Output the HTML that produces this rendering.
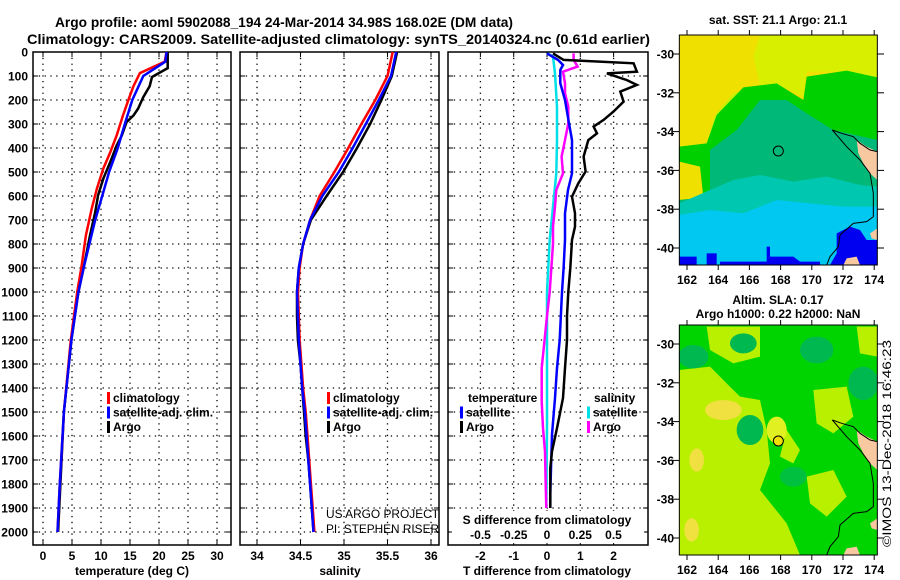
<!DOCTYPE html>
<html><head><meta charset="utf-8"><style>
html,body{margin:0;padding:0;background:#fff;}
svg{display:block;font-family:"Liberation Sans",Arial,sans-serif;font-weight:bold;}
</style></head><body>
<svg id="chart" width="900" height="580" viewBox="0 0 900 580" xmlns="http://www.w3.org/2000/svg">
<text x="55" y="27" font-size="14" textLength="458" lengthAdjust="spacingAndGlyphs">Argo profile: aoml 5902088_194 24-Mar-2014 34.98S 168.02E (DM data)</text>
<text x="27" y="44" font-size="14" textLength="623" lengthAdjust="spacingAndGlyphs">Climatology: CARS2009. Satellite-adjusted climatology: synTS_20140324.nc (0.61d earlier)</text>
<g id="panels"></g>

<!-- top map -->
<svg x="660" y="0" width="240" height="290" viewBox="0 0 720 870">
<defs><clipPath id="mc1"><rect x="58" y="105" width="594" height="690"/></clipPath></defs>
<g clip-path="url(#mc1)">
<rect x="58" y="105" width="594" height="690" fill="#f0e000"/>
<polygon fill="#d8f000" points="300,105 652,105 652,240 560,215 440,215 430,290 380,265 300,255 280,170"/>
<polygon fill="#c8f000" points="58,440 140,430 165,345 220,280 300,260 300,330 200,360 150,440 120,480 58,480"/>
<polygon fill="#00d000" points="58,440 140,430 170,345 250,262 350,250 430,300 440,230 560,212 652,232 652,800 58,800 58,600 130,592 120,500 58,485"/>
<polygon fill="#00b878" points="58,600 150,592 150,450 230,390 300,300 380,300 440,340 520,390 652,420 652,800 58,800"/>
<polygon fill="#00c8b0" points="58,610 150,570 220,540 300,525 400,545 500,530 600,555 652,560 652,800 58,800"/>
<polygon fill="#00c8f0" points="58,645 150,630 250,640 350,600 450,610 550,620 652,620 652,800 58,800"/>
<polygon fill="#0000f0" points="58,770 110,770 110,795 58,795"/>
<polygon fill="#0000f0" points="140,760 170,760 170,795 140,795"/>
<polygon fill="#0000f0" points="180,785 320,785 320,740 330,740 330,770 400,770 420,785 480,785 480,795 180,795"/>
<polygon fill="#0000f0" points="530,700 570,680 600,690 620,720 652,720 652,795 510,795 530,760"/>
<polygon fill="#f8c8a0" points="590,420 620,440 652,455 652,540 630,520 610,490 595,460"/>
<polygon fill="#f8c8a0" points="550,795 560,775 590,770 600,795"/>
<polygon fill="#f8c8a0" points="630,700 652,685 652,720 635,715"/>
<polyline fill="none" stroke="#000" stroke-width="3" points="517,390 545,400 580,410 600,430 630,450 652,455"/>
<polyline fill="none" stroke="#000" stroke-width="3" points="517,390 560,440 600,480 630,520 640,580 640,650 620,665 580,670 540,705 535,740 510,770 500,795"/>
<circle cx="355" cy="453" r="15" fill="none" stroke="#000" stroke-width="3"/>
</g>
<rect x="58" y="105" width="594" height="690" fill="none" stroke="#000" stroke-width="3"/>
</svg>

<!-- bottom map -->
<svg x="660" y="290" width="240" height="290" viewBox="0 0 720 870">
<defs><clipPath id="mc2"><rect x="58" y="105" width="594" height="690"/></clipPath></defs>
<g clip-path="url(#mc2)">
<rect x="58" y="105" width="594" height="690" fill="#00d400"/>
<polygon fill="#b8f000" points="58,240 150,230 200,280 240,320 300,330 320,420 330,520 300,600 380,700 420,795 58,795"/>
<polygon fill="#b8f000" points="380,420 420,480 400,520 360,500"/>
<polygon fill="#b8f000" points="460,300 560,290 580,380 520,430 470,400"/>
<polygon fill="#b8f000" points="440,560 520,540 560,620 500,680 450,640"/>
<polygon fill="#b8f000" points="140,110 300,110 300,200 220,220 150,180"/>
<polygon fill="#b8f000" points="590,110 652,110 652,200 600,190"/>
<ellipse cx="190" cy="360" rx="55" ry="30" fill="#f0e040"/>
<ellipse cx="110" cy="510" rx="22" ry="35" fill="#f0e040"/>
<ellipse cx="95" cy="720" rx="22" ry="35" fill="#f0e040"/>
<ellipse cx="350" cy="420" rx="30" ry="40" fill="#e0f020"/>
<ellipse cx="100" cy="200" rx="45" ry="35" fill="#00b850"/>
<ellipse cx="250" cy="160" rx="40" ry="30" fill="#00b850"/>
<ellipse cx="470" cy="180" rx="50" ry="40" fill="#00b850"/>
<ellipse cx="610" cy="280" rx="45" ry="50" fill="#00b850"/>
<ellipse cx="270" cy="420" rx="40" ry="45" fill="#00b850"/>
<ellipse cx="400" cy="560" rx="40" ry="30" fill="#00c040"/>
<polygon fill="#f8c8a0" points="590,420 620,440 652,455 652,540 630,520 610,490 595,460"/>
<polygon fill="#f8c8a0" points="550,795 560,775 590,770 600,795"/>
<polygon fill="#f8c8a0" points="630,700 652,685 652,720 635,715"/>
<polyline fill="none" stroke="#000" stroke-width="3" points="517,390 545,400 580,410 600,430 630,450 652,455"/>
<polyline fill="none" stroke="#000" stroke-width="3" points="517,390 560,440 600,480 630,520 640,580 640,650 620,665 580,670 540,705 535,740 510,770 500,795"/>
<circle cx="355" cy="453" r="15" fill="#f0e000" stroke="#000" stroke-width="3"/>
</g>
<rect x="58" y="105" width="594" height="690" fill="none" stroke="#000" stroke-width="3"/>
</svg>
<g id="mapaxes"></g>
<text x="778" y="24" font-size="12" text-anchor="middle">sat. SST: 21.1 Argo: 21.1</text>
<text x="778" y="304" font-size="12" text-anchor="middle">Altim. SLA: 0.17</text>
<text x="778" y="318" font-size="12" text-anchor="middle">Argo h1000: 0.22 h2000: NaN</text>
<text transform="translate(891,547) rotate(-90)" font-size="12" font-weight="normal" textLength="207" lengthAdjust="spacingAndGlyphs">©IMOS 13-Dec-2018 16:46:23</text>
</svg>
<script>
// ---------- data ----------
const depthTicks = [0,100,200,300,400,500,600,700,800,900,1000,1100,1200,1300,1400,1500,1600,1700,1800,1900,2000];
const tempTicks = [0,5,10,15,20,25,30];
const salTicks = [34,34.5,35,35.5,36];
const salTickLabels = ["34","34.5","35","35.5","36"];
const tdiffTicks = [-2,-1,0,1,2];
const sdiffTicks = [-0.5,-0.25,0,0.25,0.5];
const sdiffTickLabels = ["-0.5","-0.25","0","0.25","0.5"];

const argoTempDepth = [0,67,104,142,188,236,264,292,347,389,458,528,597,667,764,900,1000,1200,1500,1800,2000];
const argoTemp =      [21.5,21.5,18.8,18.4,17.3,16.4,15.6,14.4,13.6,12.7,11.6,10.4,9.5,9.0,8.1,7.0,6.1,4.9,3.6,3.0,2.6];
const climTempDepth = [0,40,88,142,201,264,347,417,486,569,653,764,900,1000,1200,1500,1800,2000];
const climTemp =      [21.3,21.0,16.7,15.6,14.7,13.8,12.7,11.6,10.4,9.3,8.4,7.4,6.6,5.9,4.8,3.6,2.9,2.5];
const satTempDepth =  [0,40,100,200,300,400,500,600,700,800,900,1000,1200,1500,1800,2000];
const satTemp =       [21.3,21.1,17.3,15.4,14.1,12.9,11.4,10.2,9.0,8.0,7.0,6.1,4.9,3.6,2.9,2.5];

const salDepth = [0,100,200,300,400,500,600,700,800,900,1000,1100,1200,1300,1400,1500,1600,1700,1800,1900,2000];
const argoSal = [35.61,35.55,35.43,35.30,35.15,34.99,34.80,34.62,34.53,34.48,34.46,34.46,34.47,34.50,34.52,34.54,34.56,34.59,34.61,34.63,34.65];
const climSal = [35.56,35.50,35.36,35.20,35.05,34.89,34.72,34.61,34.53,34.49,34.47,34.48,34.49,34.51,34.53,34.56,34.58,34.60,34.62,34.64,34.66];
const satSal  = [35.60,35.54,35.40,35.25,35.10,34.94,34.75,34.61,34.53,34.48,34.46,34.47,34.48,34.50,34.52,34.55,34.57,34.59,34.61,34.63,34.65];

const argoTdiffDepth = [6,33,47,82,89,117,137,165,207,248,283,311,339,367,436,498,547,603,672,728,783,900,1000,1100,1200,1317,1442,1567,1664,1733,1900];
const argoTdiff =      [0.18,0.5,2.6,2.7,1.8,2.4,2.7,2.2,2.3,2.0,1.7,1.4,1.5,1.24,1.1,1.16,0.94,0.75,0.84,0.84,0.75,0.7,0.64,0.6,0.6,0.54,0.48,0.3,0.15,0.1,0.1];
const satTdiffDepth =  [6,33,54,75,130,200,297,367,506,575,672,783,900,1000,1200,1317,1442,1594,1733,1844,1900];
const satTdiff =       [0,0.33,0.48,0.4,0.4,0.54,0.66,0.75,0.75,0.63,0.54,0.54,0.5,0.45,0.38,0.3,0.24,0.15,0.12,0.1,0.1];
const argoSdiffDepth = [6,33,61,82,130,172,228,297,367,436,506,575,644,728,800,1000,1100,1317,1456,1567,1664,1800,1900];
const argoSdiff =      [0.2,0.2,0.23,0.12,0.135,0.135,0.16,0.16,0.135,0.11,0.12,0.07,0.06,0.045,0.045,0.02,0,-0.04,-0.04,-0.03,-0.015,-0.01,-0.005];
const satSdiffDepth =  [6,19,89,228,367,506,644,783,1000,1317,1567,1900];
const satSdiff =       [0,0.045,0.06,0.075,0.075,0.07,0.045,0.02,0,0,0,-0.005];

// ---------- axes ----------
const TOP=52, BOT=545;
const yD = d => TOP + d*0.24;
const xT = t => 43 + t*5.8;
const xS = s => 257 + (s-34)*87;
const xTd = t => 547 + t*33.3;
const xSd = s => 547 + s*133;
const NS='http://www.w3.org/2000/svg';
const root=document.getElementById('panels');
function mk(tag, attrs, parent){const e=document.createElementNS(NS,tag);for(const k in attrs)e.setAttribute(k,attrs[k]);(parent||root).appendChild(e);return e;}
function txt(s,attrs,parent){const e=mk('text',attrs,parent);e.textContent=s;return e;}

const panels=[
 {name:'temperature-panel',x0:33,x1:231,xs:xT,ticks:tempTicks,labels:tempTicks.map(String),title:'temperature (deg C)',tx:132},
 {name:'salinity-panel',x0:240,x1:439,xs:xS,ticks:salTicks,labels:salTickLabels,title:'salinity',tx:340},
 {name:'difference-panel',x0:448,x1:648,xs:xTd,ticks:tdiffTicks,labels:tdiffTicks.map(String),title:'T difference from climatology',tx:547}
];
panels.forEach((p,pi)=>{
  const g=mk('g',{});
  
  
  depthTicks.forEach(d=>{ if(d>0) mk('line',{x1:p.x0,x2:p.x1,y1:yD(d),y2:yD(d),stroke:'#000','stroke-width':1.3,'stroke-dasharray':'1.3 4.5'},g);
    mk('line',{x1:p.x0,x2:p.x0+5,y1:yD(d),y2:yD(d),stroke:'#000','stroke-width':1},g);
    mk('line',{x1:p.x1-5,x2:p.x1,y1:yD(d),y2:yD(d),stroke:'#000','stroke-width':1},g);});
  p.ticks.forEach((t,i)=>{const x=p.xs(t);
    mk('line',{x1:x,x2:x,y1:TOP,y2:BOT,stroke:'#000','stroke-width':1.3,'stroke-dasharray':'1.3 4.5'},g);
    mk('line',{x1:x,x2:x,y1:TOP,y2:TOP+5,stroke:'#000','stroke-width':1},g);
    mk('line',{x1:x,x2:x,y1:BOT-5,y2:BOT,stroke:'#000','stroke-width':1},g);
    const l=txt(p.labels[i],{x:x,y:560,'font-size':12,'text-anchor':'middle'},g);
    
    
  });
  const tt=txt(p.title,{x:p.tx,y:575,'font-size':12,'text-anchor':'middle'},g);
  
  
  mk('rect',{x:p.x0,y:TOP,width:p.x1-p.x0,height:BOT-TOP,fill:'none',stroke:'#000','stroke-width':1.5},g);
});
depthTicks.forEach(d=>{const l=txt(String(d),{x:28,y:yD(d)+4.5,'font-size':12,'text-anchor':'end'});
  
  });
mk('rect',{x:452,y:511,width:192,height:32,fill:'#fff'});
txt('S difference from climatology',{x:547,y:524,'font-size':12,'text-anchor':'middle'});
sdiffTicks.forEach((s,i)=>{const l=txt(sdiffTickLabels[i],{x:xSd(s),y:539,'font-size':12,'text-anchor':'middle'});
  
  });

function line(depths, vals, xs, color, w, name){
  const pts=depths.map((d,i)=>xs(vals[i]).toFixed(1)+','+yD(d).toFixed(1)).join(' ');
  const e=mk('polyline',{points:pts,fill:'none',stroke:color,'stroke-width':w,'stroke-linejoin':'miter'});
  
  
}
line(argoTempDepth,argoTemp,xT,'#000',2.5,'argo-temperature-line');
line(climTempDepth,climTemp,xT,'#f00',2.5,'climatology-temperature-line');
line(satTempDepth,satTemp,xT,'#00f',2.5,'satellite-temperature-line');
line(salDepth,argoSal,xS,'#000',2.5,'argo-salinity-line');
line(salDepth,climSal,xS,'#f00',2.5,'climatology-salinity-line');
line(salDepth,satSal,xS,'#00f',2.5,'satellite-salinity-line');
line(satSdiffDepth,satSdiff,xSd,'#00e0e8',2.5,'satellite-salinity-diff-line');
line(argoSdiffDepth,argoSdiff,xSd,'#f0f',2.5,'argo-salinity-diff-line');
line(satTdiffDepth,satTdiff,xTd,'#00f',2.5,'satellite-temperature-diff-line');
line(argoTdiffDepth,argoTdiff,xTd,'#000',2.5,'argo-temperature-diff-line');

function legend(x,y,items,name){
  const g=mk('g',{});
  
  
  items.forEach((it,i)=>{const yy=y+i*14.5;
    if(it[1]){mk('rect',{x:x,y:yy-10,width:3,height:12,fill:it[1]},g);}
    txt(it[0],{x:x+(it[1]?6:0),y:yy,'font-size':12},g);});
}
legend(107,402,[['climatology','#f00'],['satellite-adj. clim.','#00f'],['Argo','#000']],'temperature-legend');
legend(327,402,[['climatology','#f00'],['satellite-adj. clim.','#00f'],['Argo','#000']],'salinity-legend');
legend(468,402,[['temperature',null]],'diff-legend-temperature-head');
legend(460,416.5,[['satellite','#00f'],['Argo','#000']],'diff-legend-temperature');
legend(594,402,[['salinity',null]],'diff-legend-salinity-head');
legend(587,416.5,[['satellite','#00e0e8'],['Argo','#f0f']],'diff-legend-salinity');
const pa=txt('US ARGO PROJECT',{x:326,y:518,'font-size':12,'font-weight':'normal',textLength:113,lengthAdjust:'spacingAndGlyphs'});


const pi=txt('PI: STEPHEN RISER',{x:326,y:533,'font-size':12,'font-weight':'normal',textLength:113,lengthAdjust:'spacingAndGlyphs'});



const ma=document.getElementById('mapaxes');
const lonTicks=[162,164,166,168,170,172,174];
const latTicks=[-30,-32,-34,-36,-38,-40];
const xLon = l => 687 + (l-162)*15.6;
[[0,54,248,280],[290,344,538,570]].forEach(m=>{
  const off=m[0], lat30=m[1], lat40=m[2];
  const yLat = la => lat30 + (la+30)*(lat40-lat30)/-10;
  latTicks.forEach(la=>{const y=yLat(la);
    mk('line',{x1:672,x2:679,y1:y,y2:y,stroke:'#000','stroke-width':1},ma);
    mk('line',{x1:877,x2:884,y1:y,y2:y,stroke:'#000','stroke-width':1},ma);
    const l=txt(String(la),{x:674,y:y+4.5,'font-size':12,'text-anchor':'end'},ma);
    
    });
  lonTicks.forEach(lo=>{const x=xLon(lo);
    mk('line',{x1:x,x2:x,y1:off+30,y2:off+35,stroke:'#000','stroke-width':1},ma);
    mk('line',{x1:x,x2:x,y1:off+265,y2:off+270,stroke:'#000','stroke-width':1},ma);
    const l=txt(String(lo),{x:x,y:m[3]+4,'font-size':12,'text-anchor':'middle'},ma);
    
    });
});
</script>
</body></html>
